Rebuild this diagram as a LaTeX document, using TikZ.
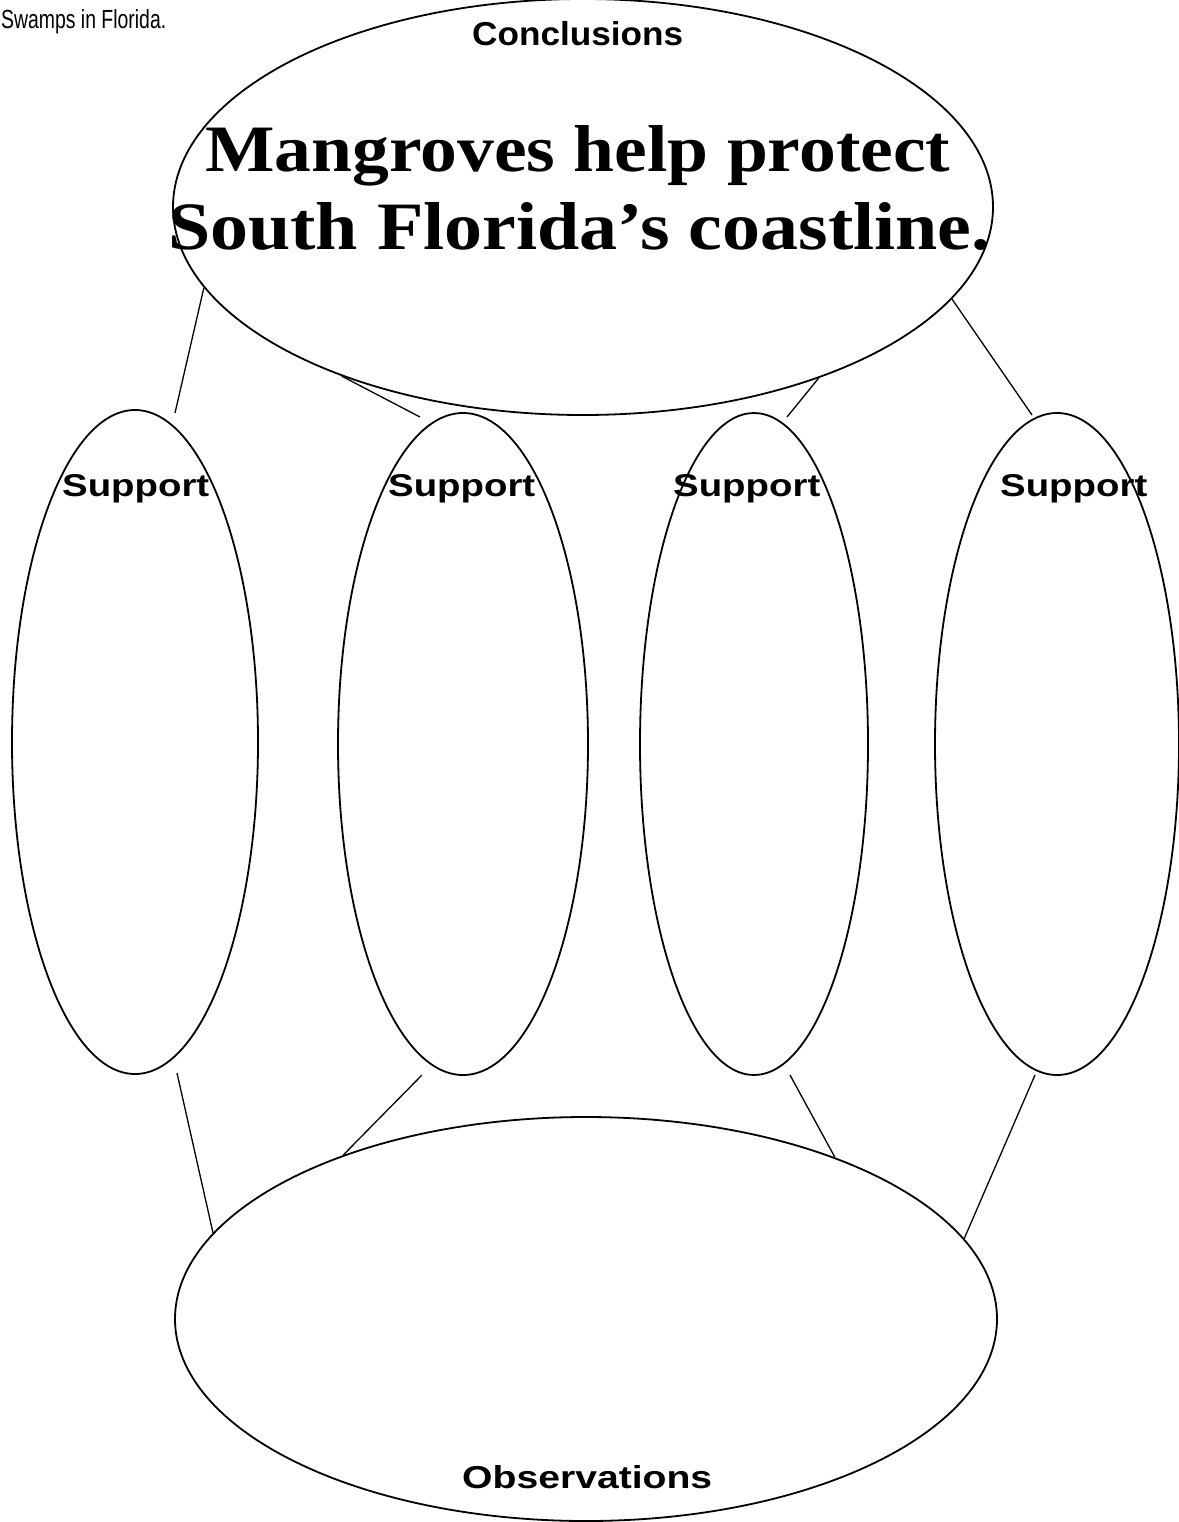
\documentclass[tikz,border=0pt]{standalone}
\usepackage{fontspec}
\setmainfont{Liberation Serif}
\newfontfamily\labelfont{Liberation Sans}
\usetikzlibrary{shapes.geometric}

\begin{document}
\begin{tikzpicture}[x=1pt, y=-1pt,
  bubble/.style={draw, ellipse, line width=1.8pt, inner sep=0pt},
  link/.style={line width=1.3pt},
  lab/.style={inner sep=0pt, anchor=base west, font=\labelfont\bfseries},
  plain/.style={inner sep=0pt, anchor=base west, font=\labelfont},
  headline/.style={inner sep=0pt, anchor=base west, font=\bfseries}]

\fill[white] (0,0) rectangle (1178,1522);
\useasboundingbox (0,0) rectangle (1178,1522);

% caption fragment
\node[plain] (cap) at (1,29) {\resizebox{165pt}{19pt}{Swamps in Florida.}};

% conclusion bubble
\node[bubble, minimum width=820pt, minimum height=416pt] (top) at (583,207) {};
\node[lab] (concl) at (472,46) {\resizebox{211pt}{24pt}{Conclusions}};
\node[headline] (head1) at (205,172) {\resizebox{745pt}{46pt}{Mangroves help protect}};
\node[headline] (head2) at (168,250) {\resizebox{822pt}{47pt}{South Florida’s coastline.}};

% support bubbles
\node[bubble, minimum width=246pt, minimum height=664pt] (s1) at (135,742) {};
\node[bubble, minimum width=250pt, minimum height=662pt] (s2) at (463,744) {};
\node[bubble, minimum width=228pt, minimum height=662pt] (s3) at (754,744) {};
\node[bubble, minimum width=244pt, minimum height=662pt] (s4) at (1057,744) {};
\node[lab] (t1) at (62,496) {\resizebox{147pt}{22pt}{Support}};
\node[lab] (t2) at (388,496) {\resizebox{147pt}{22pt}{Support}};
\node[lab] (t3) at (673,496) {\resizebox{147pt}{22pt}{Support}};
\node[lab] (t4) at (1000,496) {\resizebox{147pt}{22pt}{Support}};

% observation bubble
\node[bubble, minimum width=822pt, minimum height=404pt] (bot) at (586,1319) {};
\node[lab] (obs) at (462,1488) {\resizebox{250pt}{23pt}{Observations}};

% loose ends of the connectors near the support bubbles
\coordinate (u1) at (175,413);
\coordinate (u2) at (420,417);
\coordinate (u3) at (787,417);
\coordinate (u4) at (1032,415);
\coordinate (d1) at (177,1073);
\coordinate (d2) at (422,1075);
\coordinate (d3) at (790,1075);
\coordinate (d4) at (1035,1075);

% connectors
\draw[link] (top.192.8) -- (u1);
\draw[link] (top.215.3) -- (u2);
\draw[link] (top.324.6) -- (u3);
\draw[link] (top.346.6) -- (u4);
\draw[link] (d1) -- (bot.167.3);
\draw[link] (d2) -- (bot.146.1);
\draw[link] (d3) -- (bot.33.4);
\draw[link] (d4) -- (bot.12.4);
\end{tikzpicture}
\end{document}
